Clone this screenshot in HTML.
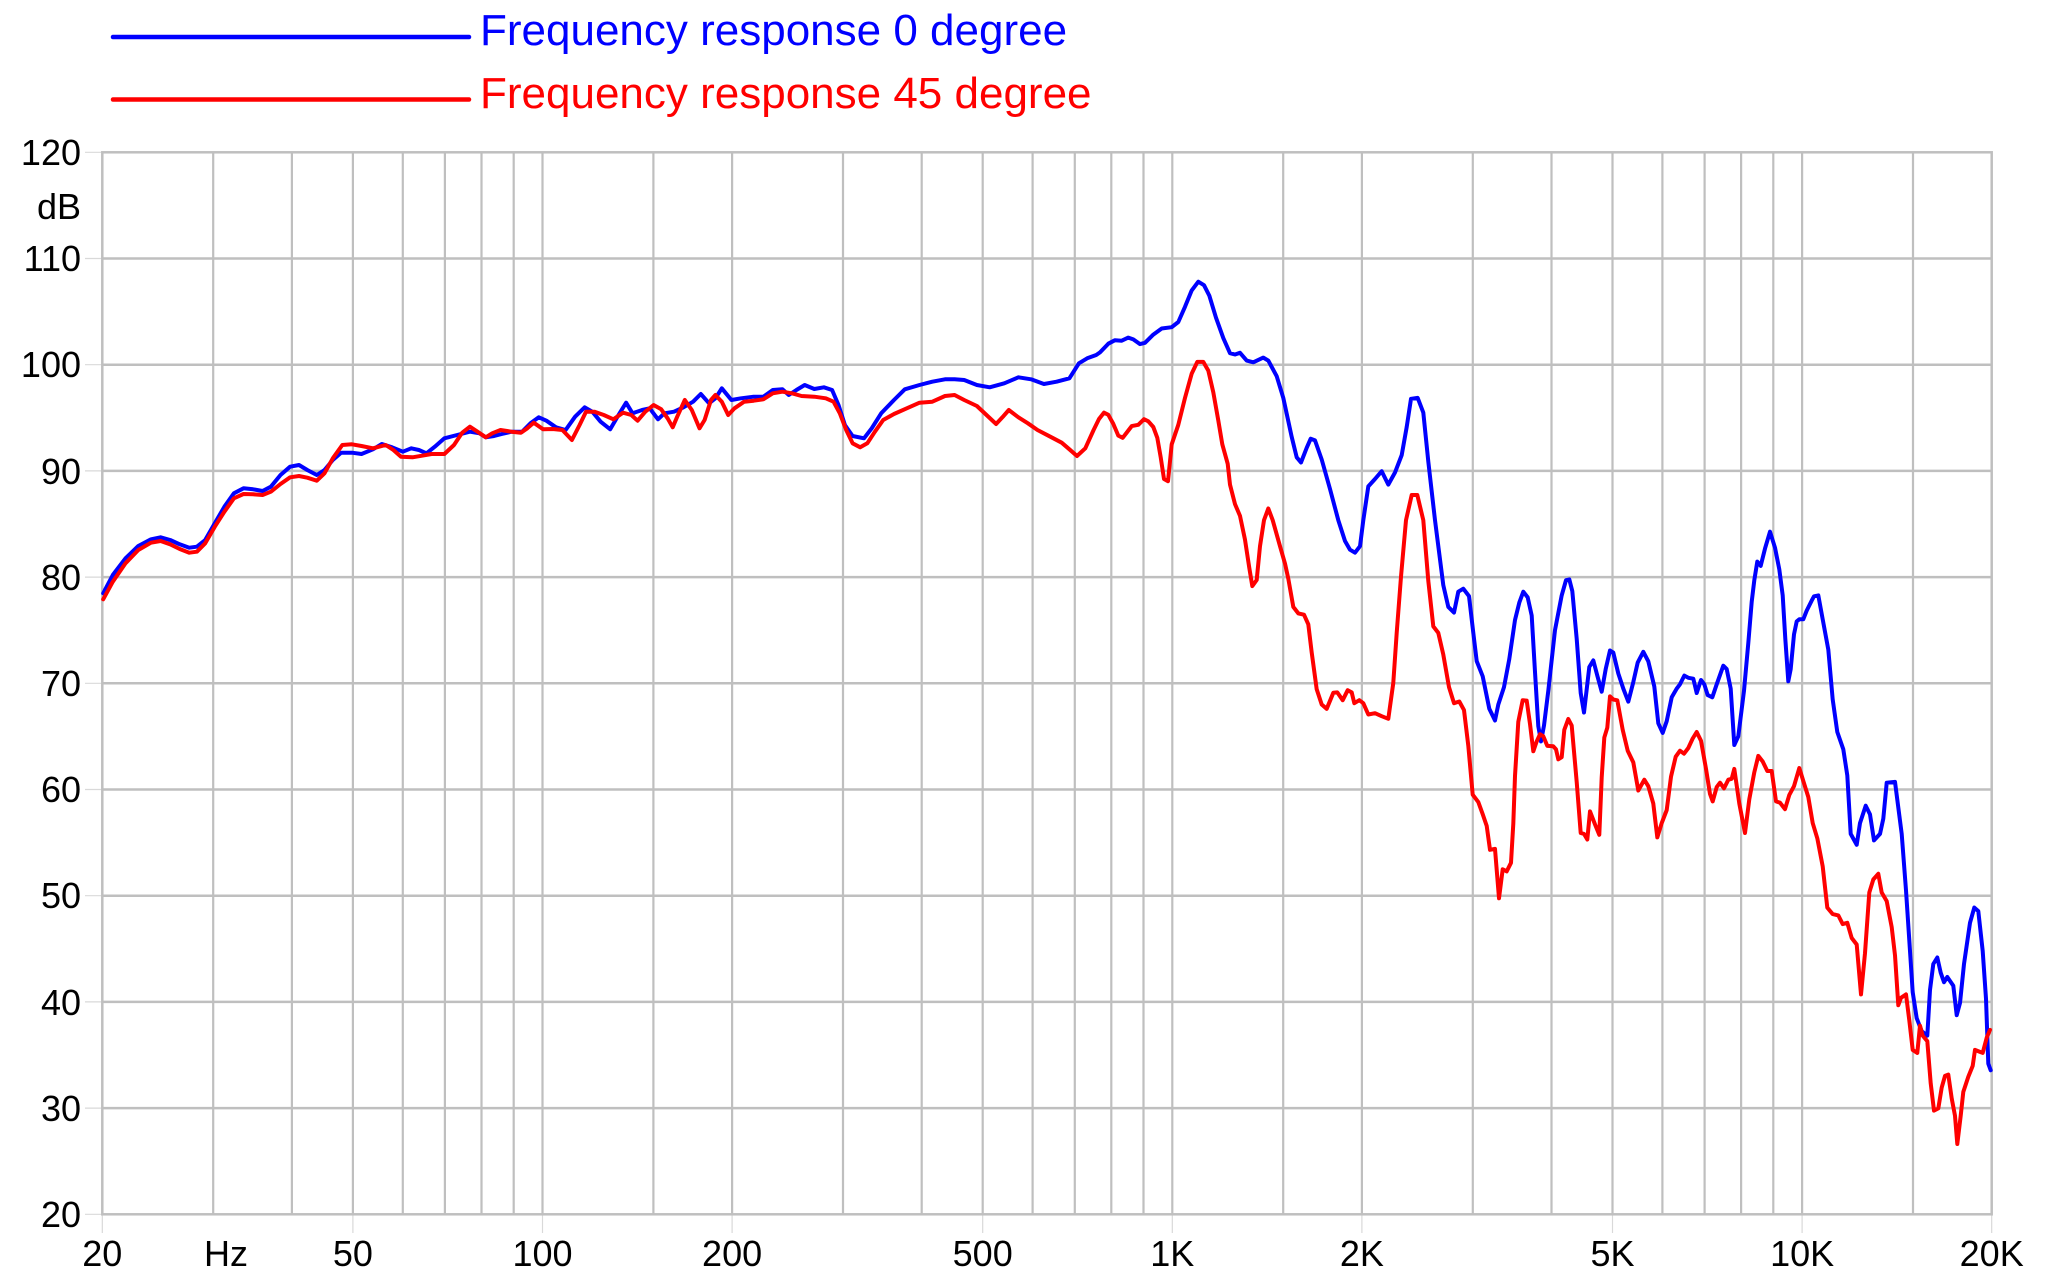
<!DOCTYPE html>
<html>
<head>
<meta charset="utf-8">
<style>
html,body{margin:0;padding:0;background:#fff;}
svg{display:block;}
text{font-family:"Liberation Sans",Arial,sans-serif;}
</style>
</head>
<body>
<svg width="2046" height="1281" viewBox="0 0 2046 1281" xmlns="http://www.w3.org/2000/svg">
<rect x="0" y="0" width="2046" height="1281" fill="#fff"/>

<!-- legend -->
<line x1="113" y1="37" x2="469" y2="37" stroke="#0000ff" stroke-width="4.5" stroke-linecap="round"/>
<line x1="113" y1="99.5" x2="469" y2="99.5" stroke="#ff0000" stroke-width="4.5" stroke-linecap="round"/>
<text x="480" y="45" font-size="44" fill="#0000ff">Frequency response 0 degree</text>
<text x="480" y="108" font-size="44" fill="#ff0000">Frequency response 45 degree</text>

<!-- tick stubs -->
<g stroke="#d9d9d9" stroke-width="1.2">
<line x1="85" y1="152.3" x2="102" y2="152.3"/>
<line x1="85" y1="258.5" x2="102" y2="258.5"/>
<line x1="85" y1="364.7" x2="102" y2="364.7"/>
<line x1="85" y1="470.9" x2="102" y2="470.9"/>
<line x1="85" y1="577.1" x2="102" y2="577.1"/>
<line x1="85" y1="683.3" x2="102" y2="683.3"/>
<line x1="85" y1="789.5" x2="102" y2="789.5"/>
<line x1="85" y1="895.7" x2="102" y2="895.7"/>
<line x1="85" y1="1001.9" x2="102" y2="1001.9"/>
<line x1="85" y1="1108.1" x2="102" y2="1108.1"/>
<line x1="85" y1="1214.3" x2="102" y2="1214.3"/>
<line x1="102.3" y1="1214" x2="102.3" y2="1233"/>
<line x1="352.9" y1="1214" x2="352.9" y2="1233"/>
<line x1="542.5" y1="1214" x2="542.5" y2="1233"/>
<line x1="732.1" y1="1214" x2="732.1" y2="1233"/>
<line x1="982.7" y1="1214" x2="982.7" y2="1233"/>
<line x1="1172.3" y1="1214" x2="1172.3" y2="1233"/>
<line x1="1361.9" y1="1214" x2="1361.9" y2="1233"/>
<line x1="1612.5" y1="1214" x2="1612.5" y2="1233"/>
<line x1="1802.1" y1="1214" x2="1802.1" y2="1233"/>
<line x1="1991.7" y1="1214" x2="1991.7" y2="1233"/>
</g>

<!-- vertical grid -->
<g stroke="#bfbfbf" stroke-width="2.2">
<line x1="213.2" y1="152" x2="213.2" y2="1214"/>
<line x1="291.9" y1="152" x2="291.9" y2="1214"/>
<line x1="352.9" y1="152" x2="352.9" y2="1214"/>
<line x1="402.8" y1="152" x2="402.8" y2="1214"/>
<line x1="444.9" y1="152" x2="444.9" y2="1214"/>
<line x1="481.5" y1="152" x2="481.5" y2="1214"/>
<line x1="513.7" y1="152" x2="513.7" y2="1214"/>
<line x1="542.5" y1="152" x2="542.5" y2="1214"/>
<line x1="653.4" y1="152" x2="653.4" y2="1214"/>
<line x1="732.1" y1="152" x2="732.1" y2="1214"/>
<line x1="843.0" y1="152" x2="843.0" y2="1214"/>
<line x1="921.7" y1="152" x2="921.7" y2="1214"/>
<line x1="982.7" y1="152" x2="982.7" y2="1214"/>
<line x1="1032.6" y1="152" x2="1032.6" y2="1214"/>
<line x1="1074.8" y1="152" x2="1074.8" y2="1214"/>
<line x1="1111.3" y1="152" x2="1111.3" y2="1214"/>
<line x1="1143.5" y1="152" x2="1143.5" y2="1214"/>
<line x1="1172.3" y1="152" x2="1172.3" y2="1214"/>
<line x1="1283.2" y1="152" x2="1283.2" y2="1214"/>
<line x1="1361.9" y1="152" x2="1361.9" y2="1214"/>
<line x1="1472.8" y1="152" x2="1472.8" y2="1214"/>
<line x1="1551.5" y1="152" x2="1551.5" y2="1214"/>
<line x1="1612.5" y1="152" x2="1612.5" y2="1214"/>
<line x1="1662.4" y1="152" x2="1662.4" y2="1214"/>
<line x1="1704.6" y1="152" x2="1704.6" y2="1214"/>
<line x1="1741.1" y1="152" x2="1741.1" y2="1214"/>
<line x1="1773.3" y1="152" x2="1773.3" y2="1214"/>
<line x1="1802.1" y1="152" x2="1802.1" y2="1214"/>
<line x1="1913.0" y1="152" x2="1913.0" y2="1214"/>
</g>
<!-- horizontal grid -->
<g stroke="#bfbfbf" stroke-width="2.5">
<line x1="102" y1="258.5" x2="1992" y2="258.5"/>
<line x1="102" y1="364.7" x2="1992" y2="364.7"/>
<line x1="102" y1="470.9" x2="1992" y2="470.9"/>
<line x1="102" y1="577.1" x2="1992" y2="577.1"/>
<line x1="102" y1="683.3" x2="1992" y2="683.3"/>
<line x1="102" y1="789.5" x2="1992" y2="789.5"/>
<line x1="102" y1="895.7" x2="1992" y2="895.7"/>
<line x1="102" y1="1001.9" x2="1992" y2="1001.9"/>
<line x1="102" y1="1108.1" x2="1992" y2="1108.1"/>
</g>
<rect x="102.3" y="152.3" width="1889.4" height="1062" fill="none" stroke="#bfbfbf" stroke-width="2.5"/>

<!-- y labels -->
<g font-size="36" fill="#000" text-anchor="end">
<text x="81" y="165">120</text>
<text x="81" y="219">dB</text>
<text x="81" y="271">110</text>
<text x="81" y="377">100</text>
<text x="81" y="484">90</text>
<text x="81" y="590">80</text>
<text x="81" y="696">70</text>
<text x="81" y="802">60</text>
<text x="81" y="908">50</text>
<text x="81" y="1015">40</text>
<text x="81" y="1121">30</text>
<text x="81" y="1227">20</text>
</g>
<!-- x labels -->
<g font-size="36" fill="#000" text-anchor="middle">
<text x="102.3" y="1266">20</text>
<text x="204" y="1266" text-anchor="start">Hz</text>
<text x="352.9" y="1266">50</text>
<text x="542.5" y="1266">100</text>
<text x="732.1" y="1266">200</text>
<text x="982.7" y="1266">500</text>
<text x="1172.3" y="1266">1K</text>
<text x="1361.9" y="1266">2K</text>
<text x="1612.5" y="1266">5K</text>
<text x="1802.1" y="1266">10K</text>
<text x="1991.7" y="1266">20K</text>
</g>

<!-- blue 0 degree -->
<polyline fill="none" stroke="#0000ff" stroke-width="4" stroke-linejoin="round" stroke-linecap="round" points="
103.2,593.3 112.8,575 125.5,558.3 138.3,546 151,539.3 160.6,537.3 170.2,540 179.7,544.3 189.3,547.7 196.9,546.7 205.2,540 214.8,523.3 224.4,506.7 233.9,493.3 243.5,488.3 253.1,489.3 262.6,491 270.9,486.7 280.5,475 290.1,466.7 299,465 307.3,470 316.8,475 324.5,470 332.8,460 341.1,452.7 351.9,452.7 361.5,454 373,449.3 381.9,444 392.1,447.3 402.9,451.7 411.2,448.3 418.9,450 426.5,453.3 434.8,446.7 444.4,438.3 457.1,435 469.9,431.7 479.5,433.3 485.8,437.3 494.1,436 501.8,434 511.4,431.7 522.2,431.7 530.5,423.3 538.8,417.3 546.4,420.7 556,427.3 565.6,430 575.1,416.7 584.7,407.3 592.3,411.7 600.6,421.7 610.2,429.3 617.9,416 626.1,402.7 632.5,413.3 642.1,410 649.7,408.3 658,419.3 664.4,413.3 674,411.7 683.5,407.3 693.1,401.7 700.8,394 709.1,403.3 715.4,398.3 721.8,388.3 731.4,400 741,398.3 753.7,396.7 763.3,396.7 772.8,390 782.4,389.3 788.8,395 796.4,390 804.7,385 814.3,389 823.9,387.3 832.1,390 838.5,405 844.9,425 852.6,436 864,438.3 871.7,428.3 881.2,413.3 894,400 904.8,389.3 919.5,385 932.3,381.7 945,379.3 954.6,379.3 964.2,380 976.9,385 989.7,387.3 1004.3,383.3 1018.4,377.3 1031.1,379.3 1043.9,384 1056.6,381.7 1069.4,378.3 1078.9,363.3 1087.2,358.3 1096.2,355
1100,352.4 1108.3,343.7 1115,340.2 1121.7,340.7 1128.3,337.6 1133.3,339.4 1140,344.1 1145,342.8 1153.3,334.6 1161.7,328.5 1171.7,327.2 1178.3,322 1185,306.8 1191.7,290.4 1198.3,281.7 1204,285.2 1209.3,295.6 1216,317.7 1223.3,338.1 1230,353.2 1235,354.5 1240,352.8 1246.7,360.6 1253.3,362.3 1263.3,357.6 1268.3,360.6 1276.7,376.2 1283.3,397.9 1291.7,436.9 1296.7,457.3 1301,462.5 1306.7,447.8 1310.7,438.7 1315,440.4 1321.7,459.5 1330,489 1338.3,520.2 1345,541 1350,549.7 1355,552.7 1360,546.2 1363.3,520.2 1368.3,486.4 1375,479 1381.7,471.2 1388.3,484.6 1395,472.5 1401.7,455.1 1406.7,427 1411,398.8 1417.7,397.9 1423.3,412.6 1428.3,461.6 1435,520.2 1443.3,585.2 1448.3,606.9 1454,612.6 1458.3,591.7 1463.3,588.7 1469,596.1 1473.3,632.9 1476.7,661.1 1482.7,676.3 1489.3,708.8 1495,720.5 1498.3,704.5 1504,687.1 1509.3,659 1515,620 1519.3,602.6 1523.3,591.7 1527.7,597.4 1531.7,615.6 1535,672 1538.3,726.2 1541,741.4
1544,725.5 1548.3,690.8 1555,630.1 1561.7,595.4 1566,580.2 1569.3,579.4 1572.3,591.1 1576.7,638.8 1580.7,693 1584,712.5 1589.3,667 1593.3,660.4 1597.3,675.6 1601.7,691.7 1605.7,669.1 1610,650.5 1613.3,652.6 1618.3,673.5 1623.3,688.6 1628.3,701.6 1633.3,682.1 1637.7,662.6 1643.3,651.8 1648.3,661.3 1654.3,686.5 1658.3,723.3 1662.7,732.9 1666.7,721.2 1671.7,697.3 1676.7,688.6 1680,684.3 1684.3,675.6 1688.3,677.8 1693.3,678.7 1696.7,693 1701,680 1704.3,684.3 1707.7,695.1 1712.3,697.3 1716.7,684.3 1723.3,665.7 1726.7,669.1 1730.7,688.6 1734.3,745 1738.3,736.3 1744,690.8 1748.3,643.1 1751.7,601.9 1754.3,580.2 1757.3,561.6 1760.7,565.9 1765,548.6 1770,531.7 1775,547.7 1779.3,569.4 1782.7,595.4 1785.3,638.8 1788.3,681.3 1790.7,669.1 1794,634.4 1796.7,621.4 1799.3,619.3 1803.3,619.3 1806.7,610.6 1811.7,600.6 1814,596.3 1818.3,595.4 1822.7,619.3 1828.3,649.6 1832.7,699.5 1837.3,732 1843.3,749.3 1847.3,775.4 1850.7,833.9 1856.7,844.8 1860,823.1 1865.7,805.7 1870,814.4 1874,840.4 1880,833.9 1883.3,818.7 1886.7,782.7 1895,781.9 1901.7,833.9 1906,890.3 1910,951 1912.7,992.2 1916.7,1018.2 1921.7,1031.2 1927.3,1035.6 1930,990 1933.3,964 1937.3,957.5 1940.7,972.7 1944,982.2 1947.3,977 1953.3,985.7 1956.7,1015.2 1960,1003 1964,964 1970,922.8 1974.3,907.6 1978.3,911.1 1982.7,951 1986,998.7 1988.3,1063.7 1990.7,1070.3"/>

<!-- red 45 degree -->
<polyline fill="none" stroke="#ff0000" stroke-width="4" stroke-linejoin="round" stroke-linecap="round" points="
103.2,599.3 112.8,581.7 125.5,563.3 138.3,550 151,542.7 160.6,541 170.2,544.3 179.7,549 189.3,552.7 196.9,551.7 205.2,543.3 214.8,526.7 224.4,511.7 233.9,498.3 243.5,494 253.1,494.3 262.6,495 270.9,491.7 280.5,484 290.1,477.3 299,476 307.3,477.7 316.8,480.7 324.5,473.3 332.8,458.3 342.3,445 351.9,444.3 361.5,446 373,448.3 385.7,445 393.4,450 401,456.7 412.5,457.3 422.1,455.7 431.6,454 444.4,454 454,445 462.2,432.7 469.9,426.7 477.5,431.7 485.8,437.3 492.2,433.3 500.5,430 511.4,431.7 520.9,432.7 527.3,428.3 533.7,422.7 543.2,429.3 552.8,429 562.4,430 571.9,440 579.6,425 586,411.7 594.3,411.7 603.8,415 613.4,419.3 623,412.7 631.3,415 637.6,420.7 645.3,411.7 653.6,405 661.2,409.3 667.6,418.3 672.7,427.3 677.2,416.7 684.8,400 691.8,410 699.5,428.3 704.6,420 711,400 715.4,395 721.8,401.7 728.2,415 734.5,408.3 744.1,401.7 753.7,400.7 763.3,399.3 772.8,393.3 782.4,391.7 792,393.3 801.5,396 814.3,396.7 825.8,398.3 833.5,401.7 839.8,413.3 846.2,430 852.6,443.3 860.2,447.3 867.3,443.3 874.9,431.7 883.2,420 894,414 906.8,408.3 919.5,402.7 932.3,401.7 945,396 954.6,395 964.2,400 976.9,406 986.5,415 996.1,424 1002.4,417.3 1008.8,410 1018.4,417.3 1027.9,423.3 1037.5,430 1050.3,436.7 1061.7,442.7 1069.4,449.3 1077,456 1085.3,448.3 1093.6,430
1099,419 1104,412.6 1108.3,414.8 1113.3,423.9 1118.3,435.6 1122.7,437.8 1126.7,432.6 1131.7,426.1 1138.3,424.8 1144,419.2 1148.3,421.3 1153.3,427 1157.3,437.8 1160.7,457.3 1164,479 1168,481.2 1171.7,444.3 1178.3,424.8 1185,397.9 1191.7,373.6 1197.3,361.9 1203.3,361.9 1208.3,370.6 1213.3,392.3 1218.3,420.5 1222.3,444.3 1227.7,463.8 1230,484.6 1235,504.1 1240,515.9 1245,539.7 1249.3,567.9 1252.3,586.1 1256.7,580 1260,546.2 1264,520.2 1268.3,508.5 1272.7,520.2 1280,546.2 1285,563.6 1288.3,578.7 1293.3,606.9 1298.3,613.4 1304,614.7 1308.3,624.3 1311.7,652.5 1316.7,689.3 1321.7,704.5 1326.7,708.8 1333.3,692.8 1337.3,692.4 1342.7,700.2 1347.7,690.2 1351.7,692.4 1354.3,703.2 1359.3,700.2 1363.3,703.2 1368.3,714.5 1375,713.2 1381.7,716.2 1388.3,718.8 1393.3,682.8 1396.7,632.9 1401,576.6 1406,520.2 1411.7,495 1417.3,495 1423.3,520.2 1428.3,580.9 1433.3,626.4 1438.3,632.9 1443.3,654.6 1449,687.1 1454,703.2 1459.3,701.5 1464,710.1 1468.3,745.7 1472.7,794.7 1478.3,802.1 1482.7,814.2 1486.7,825.9 1490,849.8 1495,848.9 1499,898.3 1502.7,869.3 1506.7,871.4 1511,862.8 1513.3,823.8 1515,776 1518.3,721.8 1522.7,700.2 1526.7,700.6 1530,724 1533.3,751.3 1536.7,741.4
1540,734.2 1543.3,736.3 1547.3,745.9 1553.3,746.3 1556,749.3 1558.3,759.3 1561.7,757.2 1564.3,729.8 1568.3,719 1571.7,725.5 1576.7,781.9 1580.7,833 1584,833.9 1587.3,839.5 1590,811.4 1595,824.4 1599.3,834.8 1601.7,777.5 1604.3,737.6 1607.3,727.7 1610,696.4 1613.3,699.5 1617.3,700.3 1622.7,729.8 1627.7,750.7 1633.3,762.4 1638.3,790.5 1644.3,779.7 1648.3,786.2 1653.3,803.6 1657.3,837.4 1661.7,823.1 1666.7,810.1 1671,776.7 1675.7,756.7 1680,750.7 1684,753.7 1688.3,748 1692.7,738.5 1696.7,732 1701,740.7 1706,768.9 1710,794 1712.7,801.4 1716.7,787.1 1720,782.7 1724,788.4 1728.3,779.7 1731.7,778.8 1734.3,768.9 1739.3,803.6 1745,833 1749.3,799.2 1754.3,772.3 1758.3,755.9 1762.7,761.5 1767.3,771 1771.7,771 1776,801.4 1780,802.7 1785,809.2 1789.3,794.9 1794,786.2 1799.3,768 1803.3,781 1808.3,797 1812.7,823.1 1817.3,838.3 1822.7,866.4 1827.3,907.6 1832.7,914.1 1838.3,915.4 1842.7,924.1 1847.3,922.8 1851.7,938 1856.7,944.5 1861,994.4 1865,953.2 1869.3,892.5 1873.3,879.5 1878.3,873.8 1881.7,892.5 1886.7,901.1 1891.7,927.1 1895,955.3 1898.3,1005.2 1901,997.8 1906,994.4 1909.3,1020.4 1912.7,1049.9 1917.3,1052.9 1920,1025.6 1922.7,1035.6 1927.3,1041.2 1930.7,1083.3 1934,1110.6 1938.3,1108.4 1941.7,1087.6 1945,1075.9 1948.3,1074.6 1951.7,1098.4 1955,1115.8 1957.3,1144 1960.7,1115.8 1963.3,1091.9 1968.3,1076.8 1972.7,1065.9 1975,1049.9 1979.3,1051.6 1982.7,1052.9 1986.7,1037.7 1990,1029.9"/>
</svg>
</body>
</html>
